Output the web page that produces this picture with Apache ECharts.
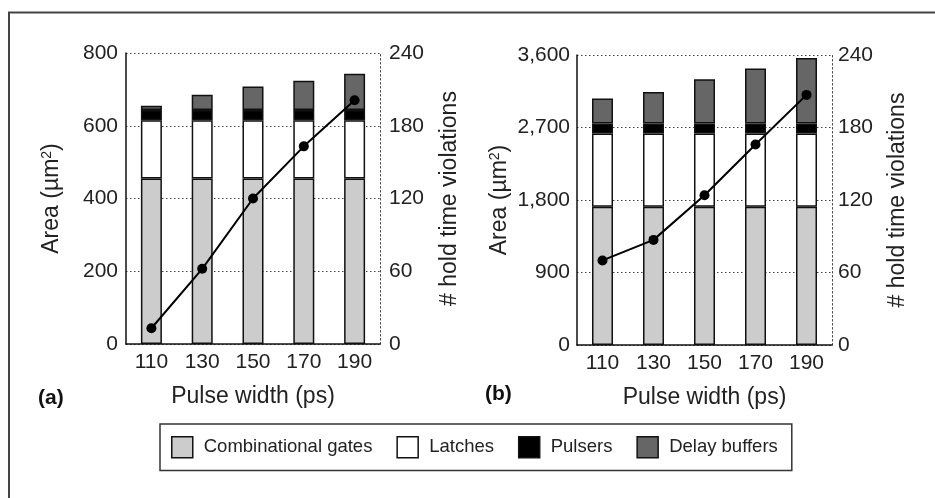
<!DOCTYPE html>
<html>
<head>
<meta charset="utf-8">
<script src="https://cdn.jsdelivr.net/npm/echarts@6/dist/echarts.min.js"></script>
<style>
html,body{margin:0;padding:0;background:#fff;}
#chart{width:935px;height:498px;}
</style>
</head>
<body>
<div id="chart"></div>
<script>
// ---- data ----
const categories = ['110', '130', '150', '170', '190'];
const legendNames = ['Combinational gates', 'Latches', 'Pulsers', 'Delay buffers'];

// panel (a)
const combA = [455, 455, 455, 455, 455];
const latchA = [160, 160, 160, 160, 160];
const pulserA = [28, 28, 28, 28, 28];
const delayA = [12, 42, 65, 81, 100];
const holdA = [13, 62, 120, 163, 201];

// panel (b)
const combB = [1715, 1715, 1715, 1715, 1715];
const latchB = [910, 910, 910, 910, 910];
const pulserB = [125, 125, 125, 125, 125];
const delayB = [309, 391, 549, 681, 813];
const holdB = [70, 87, 124, 166, 207];

// axis ranges
const areaMaxA = 800, areaStepA = 200;
const areaMaxB = 3600, areaStepB = 900;
const holdMax = 240, holdStep = 60;

// ---- styles ----
const FONT = "'Liberation Sans', Arial, Helvetica, sans-serif";
const TXT = '#222';
const segColors = ['#cccccc', '#ffffff', '#000000', '#666666'];

const chart = echarts.init(document.getElementById('chart'), null, {renderer: 'canvas'});

function fmt(v) { return Number(v).toLocaleString('en-US'); }

function xAxisFor(gi) {
  return {
    type: 'category', gridIndex: gi, data: categories,
    axisLine: {show: true, lineStyle: {color: '#111', width: 1.5}},
    axisTick: {show: false},
    axisLabel: {color: TXT, fontSize: 21, fontFamily: FONT, margin: 8},
    name: 'Pulse width (ps)', nameLocation: 'middle', nameGap: 41,
    nameTextStyle: {color: TXT, fontSize: 23, fontFamily: FONT}
  };
}

const areaName = '{a|Area (µm}{s|2}{a|)}';
const areaRich = {
  a: {fontSize: 23, fontFamily: FONT, color: TXT},
  s: {fontSize: 14, fontFamily: FONT, color: TXT, verticalAlign: 'top', padding: [0, 0, 8, 0]}
};

function leftY(gi, max, step, gap, margin) {
  return {
    type: 'value', gridIndex: gi, min: 0, max: max, interval: step, position: 'left',
    axisLine: {show: true, lineStyle: {color: '#111', width: 1.5}},
    axisTick: {show: false},
    axisLabel: {color: TXT, fontSize: 21, fontFamily: FONT, margin: margin, formatter: fmt},
    splitLine: {show: true, lineStyle: {color: '#444', type: [1.5, 2.5], width: 1}},
    name: areaName, nameLocation: 'middle', nameRotate: 90, nameGap: gap,
    nameTextStyle: {rich: areaRich}
  };
}

function rightY(gi, gap, margin) {
  return {
    type: 'value', gridIndex: gi, min: 0, max: holdMax, interval: holdStep, position: 'right',
    axisLine: {show: true, lineStyle: {color: '#444', width: 1, type: [1.5, 2.5]}},
    axisTick: {show: false},
    axisLabel: {color: TXT, fontSize: 21, fontFamily: FONT, margin: margin},
    splitLine: {show: false},
    name: '# hold time violations', nameLocation: 'middle', nameRotate: 90, nameGap: gap,
    nameTextStyle: {color: TXT, fontSize: 23, fontFamily: FONT}
  };
}

function barSeries(name, data, color, xi, yi, stack) {
  return {
    name: name, type: 'bar', stack: stack, xAxisIndex: xi, yAxisIndex: yi,
    data: data, barWidth: 21,
    itemStyle: {color: color, borderColor: '#111', borderWidth: 1.5},
    emphasis: {disabled: true}, z: 2
  };
}

function lineSeries(name, data, xi, yi) {
  return {
    name: name, type: 'line', xAxisIndex: xi, yAxisIndex: yi, data: data,
    symbol: 'circle', symbolSize: 10,
    lineStyle: {color: '#000', width: 2},
    itemStyle: {color: '#000'},
    z: 5, emphasis: {disabled: true}
  };
}

const option = {
  animation: false,
  backgroundColor: '#fff',
  textStyle: {fontFamily: FONT},
  grid: [
    {left: 126, top: 53, width: 254, height: 291},
    {left: 577, top: 55, width: 255, height: 290}
  ],
  xAxis: [xAxisFor(0), xAxisFor(1)],
  yAxis: [
    leftY(0, areaMaxA, areaStepA, 63, 8),
    rightY(0, 58, 9),
    leftY(1, areaMaxB, areaStepB, 66, 7),
    rightY(1, 54, 6)
  ],
  legend: {
    data: legendNames,
    left: 160, top: 424,
    orient: 'horizontal',
    icon: 'rect',
    itemWidth: 21, itemHeight: 21, itemGap: 24,
    padding: [12, 14, 12, 11],
    borderColor: '#333', borderWidth: 1.5,
    selectedMode: false,
    itemStyle: {borderColor: '#111', borderWidth: 1.5},
    textStyle: {color: TXT, fontSize: 18.5, fontFamily: FONT, padding: [0, 0, 0, 6]}
  },
  graphic: [
    {type: 'rect', silent: true, shape: {x: 9, y: 12.5, width: 1000, height: 600},
     style: {fill: 'none', stroke: '#444', lineWidth: 2}, z: -10},
    {type: 'text', left: 38, top: 388, silent: true,
     style: {text: '(a)', fontSize: 21, fontWeight: 'bold', fontFamily: FONT, fill: '#111'}},
    {type: 'text', left: 485, top: 384, silent: true,
     style: {text: '(b)', fontSize: 21, fontWeight: 'bold', fontFamily: FONT, fill: '#111'}}
  ],
  series: [
    barSeries(legendNames[0], combA, segColors[0], 0, 0, 'a'),
    barSeries(legendNames[1], latchA, segColors[1], 0, 0, 'a'),
    barSeries(legendNames[2], pulserA, segColors[2], 0, 0, 'a'),
    barSeries(legendNames[3], delayA, segColors[3], 0, 0, 'a'),
    lineSeries('Hold violations (a)', holdA, 0, 1),
    barSeries(legendNames[0], combB, segColors[0], 1, 2, 'b'),
    barSeries(legendNames[1], latchB, segColors[1], 1, 2, 'b'),
    barSeries(legendNames[2], pulserB, segColors[2], 1, 2, 'b'),
    barSeries(legendNames[3], delayB, segColors[3], 1, 2, 'b'),
    lineSeries('Hold violations (b)', holdB, 1, 3)
  ]
};

chart.setOption(option);
</script>
</body>
</html>
